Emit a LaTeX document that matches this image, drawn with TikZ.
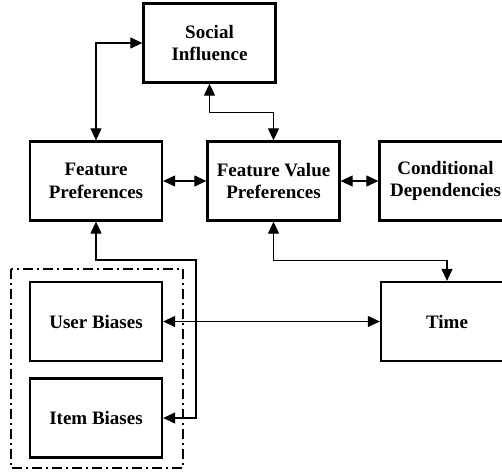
\documentclass[tikz,border=0pt]{standalone}
\usepackage{fontspec}
\setmainfont{Liberation Serif}
\usetikzlibrary{arrows.meta}

\tikzstyle{caja}= [rectangle,draw,black,line width=2.3pt,minimum width=132pt,minimum height=79pt,align=center,font=\fontsize{19}{22.5}\selectfont\bfseries]
\tikzstyle{flecha}= [black,line width=1.1pt,{Triangle[length=12pt,width=11pt]}-{Triangle[length=12pt,width=11pt]}]
\tikzstyle{grupo}= [black,line width=2pt,dash pattern=on 10pt off 4pt on 2pt off 4pt]

\begin{document}
\begin{tikzpicture}[x=1pt,y=-1pt]

		\clip (0,0) rectangle (502,473);
		\fill[white] (0,0) rectangle (502,473);

		\node (si) at (209.5,43) [caja] {Social\\Influence};

		\node (fp) at (96,181) [caja] {Feature\\Preferences};
		\node (fvp) at (273.5,181) [caja] {Feature Value\\Preferences};
		\node (cd) at (445.5,181) [caja] {Conditional\\Dependencies};

		\node (ub) at (96,321.5) [caja] {User Biases};
		\node (ib) at (96,418) [caja] {Item Biases};
		\node (t) at (447,321.5) [caja] {Time};

		\draw[grupo] (11,269) rectangle (183,468);

		\coordinate (jog) at (196,260);

		\draw[flecha] (fp.north) |- (si.west);
		\draw[flecha] (si.south) -- ++(0,29) -| (fvp.north);
		\path[flecha] (fp) edge[] (fvp);
		\path[flecha] (fvp) edge[] (cd);

		\draw[flecha] (fp.south) |- (jog) |- (ib.east);
		\draw[flecha] (fvp.south) -- ++(0,39) -| (t.north);
		\path[flecha] (ub) edge[] (t);

\end{tikzpicture}
\end{document}
